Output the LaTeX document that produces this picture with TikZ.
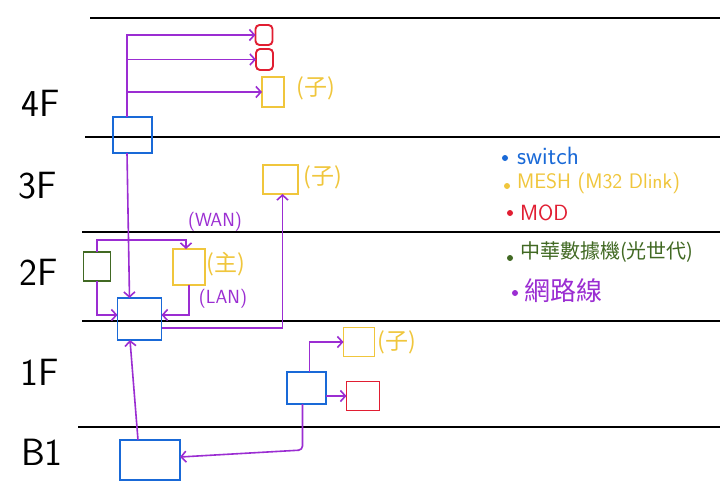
\documentclass[tikz,border=0pt]{standalone}
\usepackage{fontspec}
\newfontfamily\cjk{Noto Sans CJK TC}
\usetikzlibrary{arrows.meta}
\definecolor{swc}{RGB}{25,105,215}
\definecolor{meshc}{RGB}{240,198,60}
\definecolor{modc}{RGB}{225,30,50}
\definecolor{gwc}{RGB}{65,105,35}
\definecolor{netc}{RGB}{155,45,210}
\begin{document}
\begin{tikzpicture}[x=1pt,y=-1pt,
  floorline/.style={line width=1.8pt,black},
  dev/.style={draw,line width=1.9pt,inner sep=0pt,outer sep=0pt},
  swbox/.style={dev,draw=swc},
  meshbox/.style={dev,draw=meshc},
  modbox/.style={dev,draw=modc},
  gwbox/.style={dev,draw=gwc},
  link/.style={draw=netc,line width=1.6pt,-{Straight Barb[length=5pt,width=11pt,line width=1.6pt]}},
  floorlbl/.style={font=\sffamily\fontsize{38}{38}\selectfont},
  tag/.style={font=\cjk\fontsize{23}{23}\selectfont,text=meshc},
  port/.style={font=\sffamily\fontsize{19}{19}\selectfont,text=netc},
  legend/.style={anchor=west,inner sep=0pt}
]
\fill[white] (0,0) rectangle (720,500);
\useasboundingbox (0,0) rectangle (720,500);

% floor separators
\draw[floorline] (90,18) -- (720,18);
\draw[floorline] (85,137) -- (720,137);
\draw[floorline] (82,232) -- (720,232);
\draw[floorline] (82,321) -- (720,321);
\draw[floorline] (78,427) -- (720,427);

% floor labels
\node[floorlbl] (f4) at (41,103) {4F};
\node[floorlbl] (f3) at (38,186) {3F};
\node[floorlbl] (f2) at (39,272) {2F};
\node[floorlbl] (f1) at (40,372) {1F};
\node[floorlbl] (fb) at (42,452) {B1};

% switches
\node[swbox,minimum width=39pt,minimum height=36pt] (sw4) at (132.5,135) {};
\node[swbox,minimum width=44pt,minimum height=42pt] (sw2) at (139.5,319) {};
\node[swbox,minimum width=39pt,minimum height=32pt] (sw1) at (306.5,388) {};
\node[swbox,minimum width=60pt,minimum height=40pt] (swb) at (150,460) {};

% mesh
\node[meshbox,minimum width=22pt,minimum height=30pt] (m4) at (273,92) {};
\node[meshbox,minimum width=35pt,minimum height=29pt] (m3) at (280.5,179.5) {};
\node[meshbox,minimum width=32pt,minimum height=36pt] (m2) at (189,267) {};
\node[meshbox,minimum width=31pt,minimum height=29pt] (m1) at (359,342) {};

% MOD
\node[modbox,rounded corners=4pt,minimum width=17pt,minimum height=20pt] (r1) at (264,35) {};
\node[modbox,rounded corners=4pt,minimum width=17pt,minimum height=21pt] (r2) at (264.5,59.5) {};
\node[modbox,minimum width=33pt,minimum height=29pt] (r3) at (363,396) {};

% gateway
\node[gwbox,minimum width=27pt,minimum height=29pt] (gw) at (97,266.5) {};

% tags
\node[tag] (t4) at (316,88) {(子)};
\node[tag] (t3) at (323,177) {(子)};
\node[tag] (t2) at (226,264) {(主)};
\node[tag] (t1) at (397,342) {(子)};
\node[port] (wan) at (215,222) {(WAN)};
\node[port] (lan) at (223,299) {(LAN)};

% connectors
\coordinate (trunk) at (127,0);
\draw[link] ([xshift=-5.5pt]sw4.north) |- (r1.west);
\draw[link] (r2.west -| trunk) -- (r2.west);
\draw[link] (m4.west -| trunk) -- (m4.west);
\draw[link] ([xshift=-5.5pt]sw4.south) -- ([xshift=-10pt]sw2.north);
\draw[link] (gw.north) -- ++(0,-12) -| ([xshift=-3pt]m2.north);
\draw[link] (gw.south) |- ([yshift=4pt]sw2.west);
\draw[link] (m2.south) |- ([yshift=4pt]sw2.east);
\draw[link] ([yshift=-9pt]sw2.east) -| ([xshift=2pt]m3.south);
\draw[link] ([xshift=-12pt]swb.north) -- ([xshift=-9.5pt]sw2.south);
\draw[link,rounded corners=4pt] ([xshift=-4pt]sw1.south) -- ++(0,46) -- ([yshift=3pt]swb.east);
\draw[link] ([xshift=3pt]sw1.north) |- (m1.west);
\draw[link] ([yshift=-8pt]sw1.east) -- (r3.west);

% legend
\fill[swc] (505,158) circle (3pt);
\node[legend,text=swc,font=\sffamily\fontsize{25}{25}\selectfont] (lsw) at (517,156) {switch};
\fill[meshc] (507,186) circle (3pt);
\node[legend,text=meshc,font=\sffamily\fontsize{21}{21}\selectfont] (lmesh) at (517,183) {MESH (M32 Dlink)};
\fill[modc] (510,213) circle (3pt);
\node[legend,text=modc,font=\sffamily\fontsize{22}{22}\selectfont] (lmod) at (520,213) {MOD};
\fill[gwc] (510,258) circle (3pt);
\node[legend,text=gwc,font=\cjk\fontsize{20}{20}\selectfont] (lgw) at (520,252) {中華數據機(光世代)};
\fill[netc] (515,293) circle (3pt);
\node[legend,text=netc,font=\cjk\fontsize{26}{26}\selectfont] (lnet) at (524,291) {網路線};
\end{tikzpicture}
\end{document}
